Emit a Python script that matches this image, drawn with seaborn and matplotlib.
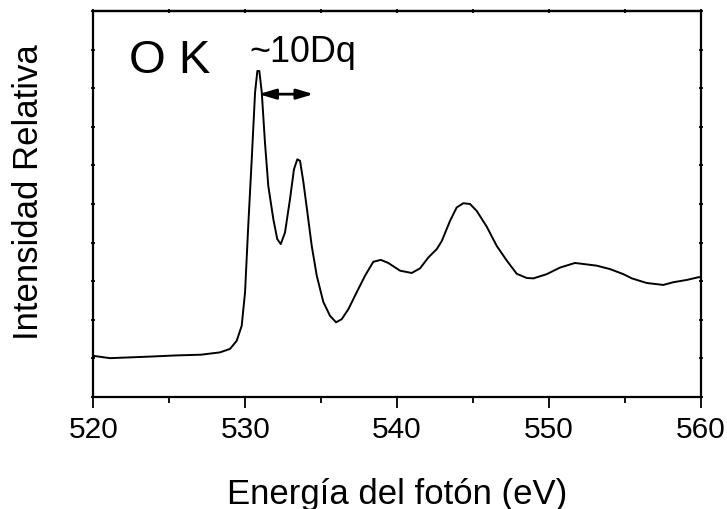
import numpy as np
import pandas as pd
import matplotlib
matplotlib.use("Agg")
import matplotlib.pyplot as plt
import seaborn as sns
from matplotlib.ticker import MultipleLocator, NullFormatter

# O K-edge absorption spectrum (photon energy in eV, relative intensity)
energy = [520.0, 521.1, 522.4, 523.7, 525.4, 527.1, 528.34, 529.0, 529.44, 529.77,
          529.99, 530.20, 530.43, 530.65, 530.80, 530.93, 531.09, 531.30, 531.52,
          531.85, 532.11, 532.34, 532.62, 532.95, 533.21, 533.43, 533.61, 533.83,
          534.09, 534.38, 534.71, 535.14, 535.58, 535.98, 536.35, 536.79, 537.34,
          537.89, 538.43, 538.92, 539.42, 540.19, 540.96, 541.51, 542.05, 542.61,
          542.94, 543.48, 543.92, 544.36, 544.80, 545.24, 545.90, 546.56, 547.22,
          547.87, 548.53, 548.97, 549.85, 550.72, 551.71, 553.14, 554.02, 554.89,
          555.45, 556.43, 557.52, 558.18, 559.07, 559.83, 560.0]
intensity = [1.06, 1.00, 1.02, 1.04, 1.07, 1.09, 1.15, 1.24, 1.45, 1.84,
             2.71, 4.43, 6.16, 7.90, 8.45, 8.45, 7.90, 6.60, 5.47,
             4.61, 4.09, 3.96, 4.26, 5.13, 5.90, 6.16, 6.12, 5.57,
             4.79, 3.91, 3.14, 2.46, 2.10, 1.93, 2.01, 2.27, 2.71,
             3.14, 3.50, 3.55, 3.47, 3.27, 3.21, 3.33, 3.61, 3.83,
             4.04, 4.56, 4.91, 5.02, 5.00, 4.82, 4.41, 3.91, 3.53,
             3.19, 3.08, 3.07, 3.18, 3.35, 3.47, 3.40, 3.31, 3.18,
             3.07, 2.95, 2.90, 2.97, 3.03, 3.10, 3.10]

x_ticks = [520, 530, 540, 550, 560]
edge_label = "O K"
split_label = "~10Dq"
split_start, split_end, split_level = 530.9, 534.5, 7.85

sns.set_theme(style="ticks")
plt.rcParams["font.family"] = ["Liberation Sans", "DejaVu Sans"]
plt.rcParams.update({"text.color": "black", "axes.labelcolor": "black",
                     "xtick.color": "black", "ytick.color": "black"})

fig = plt.figure(figsize=(7.27, 5.10), dpi=100)
ax = fig.add_axes([0.1283, 0.2202, 0.8359, 0.7557])

df = pd.DataFrame({"E": energy, "I": intensity})
sns.lineplot(data=df, x="E", y="I", ax=ax, color="black", linewidth=1.4,
             sort=False, estimator=None)

ax.set_xlim(520, 560)
ax.set_ylim(0, 10)
ax.set_xticks(x_ticks)
ax.set_xticklabels([str(t) for t in x_ticks])
ax.xaxis.set_minor_locator(MultipleLocator(5))
ax.yaxis.set_major_locator(MultipleLocator(1))
ax.yaxis.set_major_formatter(NullFormatter())

ax.tick_params(axis="x", which="major", direction="out", length=8, width=1.3,
               labelsize=21.5, pad=5, colors="black")
ax.tick_params(axis="x", which="minor", direction="out", length=4.3, width=1.3,
               colors="black")
ax.tick_params(axis="y", which="both", direction="inout", length=2.5, width=1.3,
               left=True, right=True, colors="black")

for sp in ax.spines.values():
    sp.set_visible(True)
    sp.set_linewidth(1.6)
    sp.set_color("black")

top = ax.secondary_xaxis("top")
top.set_xticks(np.arange(520, 561, 5))
top.tick_params(direction="inout", length=2.5, width=1.3, labeltop=False,
                colors="black")
top.spines["top"].set_linewidth(1.6)
top.spines["top"].set_color("black")

ax.set_xlabel("Energía del fotón (eV)", fontsize=25, labelpad=25, color="black")
ax.set_ylabel("Intensidad Relativa", fontsize=25, color="black")
ax.yaxis.set_label_coords(-0.08, 0.534)

ax.text(522.35, 8.42, edge_label, fontsize=34, va="baseline", ha="left",
        color="black")
ax.text(530.3, 8.70, split_label, fontsize=25.8, va="baseline", ha="left",
        color="black")
ax.annotate("", xy=(split_start, split_level), xytext=(split_end, split_level),
            arrowprops=dict(arrowstyle="<|-|>,head_length=1.0,head_width=0.3",
                            color="black", lw=2, mutation_scale=10,
                            shrinkA=0, shrinkB=0))

fig.savefig("out.png", dpi=100)
